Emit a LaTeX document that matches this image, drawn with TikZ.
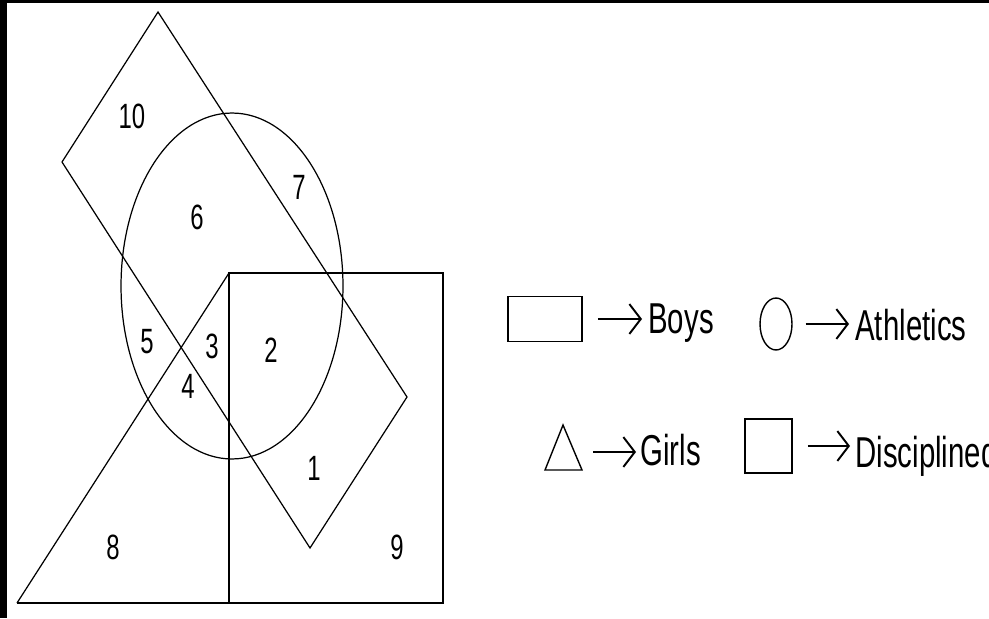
\documentclass[tikz,border=0pt]{standalone}
\usepackage{fontspec}
\setmainfont{Liberation Sans}
\usetikzlibrary{positioning,shapes.geometric,arrows.meta}
\newcommand{\sqz}[1]{\scalebox{0.68}[1]{#1}}
\tikzset{
  setline/.style={draw, line width=0.7pt},
  boldline/.style={draw, line width=1.1pt},
  region/.style={inner sep=0pt, font=\fontsize{20}{22}\selectfont},
  legendtext/.style={inner sep=0pt, anchor=base west, font=\fontsize{24.6}{28}\selectfont},
  legendkey/.style={draw, inner sep=0pt},
  legendarrow/.style={-{Straight Barb[length=6.5pt, width=17pt]}, line width=1.1pt}
}

\begin{document}
\begin{tikzpicture}[x=0.02cm, y=-0.02cm]
  \useasboundingbox (0,0) rectangle (989,618);
  % dark edges of the scan
  \fill[black] (0,0) rectangle (7,618);
  \fill[black] (0,0) rectangle (989,3);

  % the four sets
  \draw[setline] (158,12) -- (407,397) -- (310,548) -- (62,162) -- cycle;
  \draw[setline] (232,286) ellipse [x radius=2.22cm, y radius=3.46cm];
  \draw[boldline] (229,273) rectangle (443,603);
  \draw[setline] (229,273) -- (17,603);
  \draw[boldline] (17,603) -- (229,603);

  % region numbers
  \node[region] (r1) at (314,468) {\sqz{1}};
  \node[region] (r2) at (271,350) {\sqz{2}};
  \node[region] (r3) at (212,346) {\sqz{3}};
  \node[region] (r4) at (188,386) {\sqz{4}};
  \node[region] (r5) at (147,342) {\sqz{5}};
  \node[region] (r6) at (197,217) {\sqz{6}};
  \node[region] (r7) at (299,187) {\sqz{7}};
  \node[region] (r8) at (113,547) {\sqz{8}};
  \node[region] (r9) at (397,547) {\sqz{9}};
  \node[region] (r10) at (132,116) {\sqz{10}};

  % legend
  \node[legendkey, line width=1.1pt, minimum width=1.48cm, minimum height=0.9cm] (boyskey) at (545,319) {};
  \node[legendtext] (boyslabel) at (648,333) {\sqz{Boys}};
  \draw[legendarrow, shorten <=0.3cm, shorten >=0.12cm] (boyskey.east) -- (boyskey.east -| boyslabel.west);

  \node[legendkey, ellipse, line width=0.8pt, minimum width=0.64cm, minimum height=1.04cm] (athkey) at (776,324) {};
  \node[legendtext] (athlabel) at (855,340) {\sqz{Athletics}};
  \draw[legendarrow, shorten <=0.26cm, shorten >=0.12cm] (athkey.east) -- (athkey.east -| athlabel.west);

  \draw[line width=0.8pt] (563,425) -- (582,470) -- (545,470) -- cycle;
  \coordinate (girlskey) at (582,452);
  \node[legendtext] (girlslabel) at (640,465) {\sqz{Girls}};
  \draw[legendarrow, shorten <=0.22cm, shorten >=0.08cm] (girlskey) -- (girlskey -| girlslabel.west);

  \node[legendkey, line width=1.1pt, minimum width=0.94cm, minimum height=1.08cm] (disckey) at (768.5,446) {};
  \node[legendtext] (disclabel) at (855,467) {\sqz{Disciplined}};
  \draw[legendarrow, shorten <=0.3cm, shorten >=0.1cm] (disckey.east) -- (disckey.east -| disclabel.west);
\end{tikzpicture}
\end{document}
